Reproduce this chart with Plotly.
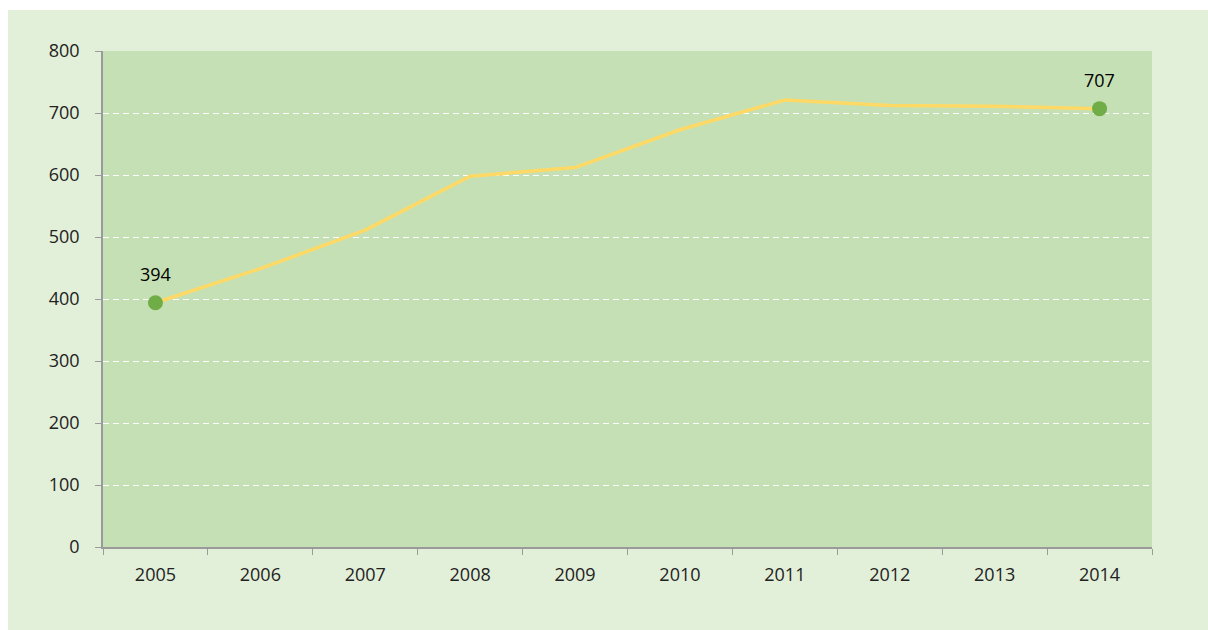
import plotly.graph_objects as go

years = ["2005", "2006", "2007", "2008", "2009", "2010", "2011", "2012", "2013", "2014"]
values = [394, 449, 511, 598, 612, 673, 721, 712, 711, 707]
label_years = ["2005", "2014"]
label_values = [394, 707]
y_ticks = [0, 100, 200, 300, 400, 500, 600, 700, 800]

W, H = 1208, 630
L, R, T, B = 103, 56, 51, 83
pw, ph = W - L - R, H - T - B

def px_x(p):
    return (p - L) / pw

def px_y(p):
    return (H - B - p) / ph

fig = go.Figure()
fig.add_trace(go.Scatter(x=years, y=values, mode="lines",
                         line=dict(color="#ffd966", width=3.5), hoverinfo="skip"))
fig.add_trace(go.Scatter(x=label_years, y=label_values, mode="markers",
                         marker=dict(color="#70ad47", size=15), cliponaxis=False))
for yr, v in zip(label_years, label_values):
    fig.add_annotation(x=years.index(yr), y=v, xref="x", yref="y", text=str(v),
                       showarrow=False, yshift=29,
                       font=dict(size=18, color="#000000", family="Open Sans"))

# white outer margin strips (top and left)
fig.add_shape(type="rect", xref="paper", yref="paper",
              x0=px_x(-5), x1=px_x(W + 5), y0=px_y(10), y1=px_y(-5),
              fillcolor="#ffffff", line=dict(width=0), layer="below")
fig.add_shape(type="rect", xref="paper", yref="paper",
              x0=px_x(-5), x1=px_x(8), y0=px_y(H + 5), y1=px_y(-5),
              fillcolor="#ffffff", line=dict(width=0), layer="below")

fig.update_layout(
    width=W, height=H,
    margin=dict(l=L, r=R, t=T, b=B),
    paper_bgcolor="#e2efd9",
    plot_bgcolor="#c5e0b4",
    showlegend=False,
    font=dict(family="Open Sans", size=18, color="#222222"),
)
fig.update_xaxes(type="category", tickson="boundaries", ticks="outside", ticklen=6,
                 tickcolor="#9a9a9a", showline=True, linecolor="#9a9a9a", linewidth=1.5,
                 showgrid=False, ticklabelstandoff=11, range=[-0.5, 9.5])
fig.update_yaxes(range=[0, 800], tickvals=y_ticks, ticks="outside", ticklen=6,
                 tickcolor="#9a9a9a", showline=True, linecolor="#9a9a9a", linewidth=1.5,
                 showgrid=True, gridcolor="#ffffff", griddash="6px,4px", gridwidth=1,
                 zeroline=False, ticklabelstandoff=12)

fig.write_html("out.html")
